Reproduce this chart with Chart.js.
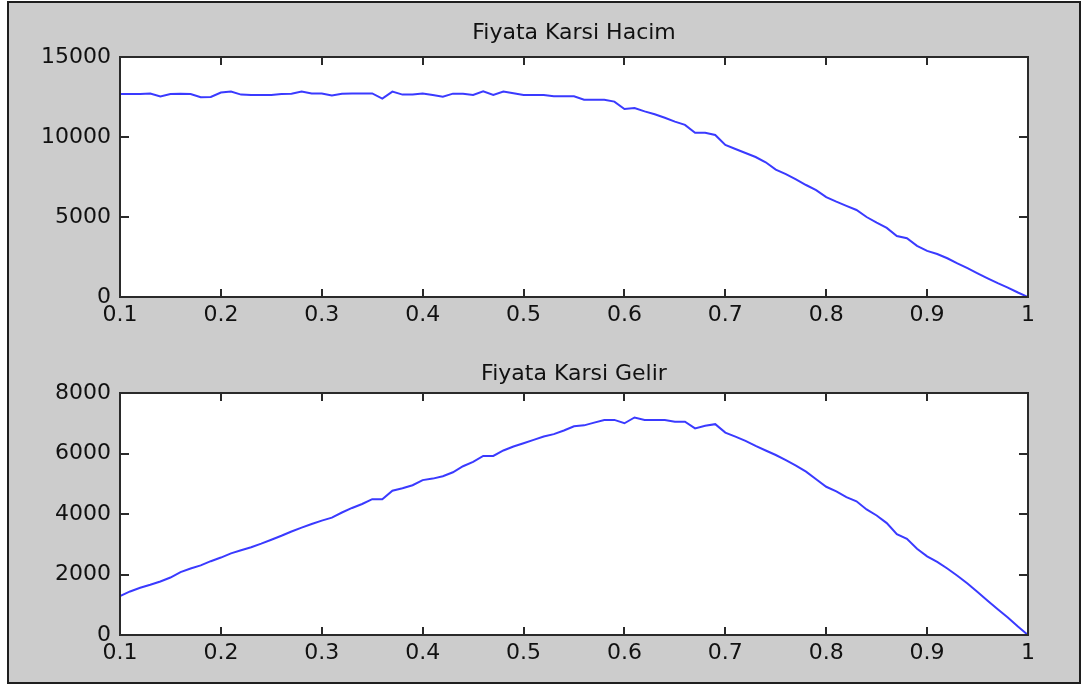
<!DOCTYPE html>
<html>
<head>
<meta charset="utf-8">
<script src="https://cdn.jsdelivr.net/npm/chart.js@4.4.1/dist/chart.umd.min.js"></script>
<style>
  html, body { margin: 0; padding: 0; background: #ffffff; }
  body { width: 1082px; height: 688px; position: relative; overflow: hidden; }
  #frame {
    position: absolute; left: 7px; top: 1px;
    width: 1070px; height: 679px;
    background: #cccccc; border: 2px solid #1e1e1e;
  }
  canvas { position: absolute; left: 0; }
  #volumeChart { top: 0; }
  #revenueChart { top: 340px; }
</style>
</head>
<body>
<div id="frame"></div>
<canvas id="volumeChart" width="1082" height="340"></canvas>
<canvas id="revenueChart" width="1082" height="348"></canvas>
<script>
// Price levels (x axis)
const prices = [
  0.10, 0.11, 0.12, 0.13, 0.14, 0.15, 0.16, 0.17, 0.18, 0.19,
  0.20, 0.21, 0.22, 0.23, 0.24, 0.25, 0.26, 0.27, 0.28, 0.29,
  0.30, 0.31, 0.32, 0.33, 0.34, 0.35, 0.36, 0.37, 0.38, 0.39,
  0.40, 0.41, 0.42, 0.43, 0.44, 0.45, 0.46, 0.47, 0.48, 0.49,
  0.50, 0.51, 0.52, 0.53, 0.54, 0.55, 0.56, 0.57, 0.58, 0.59,
  0.60, 0.61, 0.62, 0.63, 0.64, 0.65, 0.66, 0.67, 0.68, 0.69,
  0.70, 0.71, 0.72, 0.73, 0.74, 0.75, 0.76, 0.77, 0.78, 0.79,
  0.80, 0.81, 0.82, 0.83, 0.84, 0.85, 0.86, 0.87, 0.88, 0.89,
  0.90, 0.91, 0.92, 0.93, 0.94, 0.95, 0.96, 0.97, 0.98, 0.99,
  1.00
];

// Volume (Hacim) at each price
const volume = [
  12690, 12690, 12690, 12720, 12530, 12690, 12700, 12690, 12480, 12500,
  12780, 12840, 12650, 12630, 12630, 12630, 12690, 12710, 12840, 12720,
  12720, 12600, 12700, 12720, 12720, 12720, 12400, 12840, 12650, 12650,
  12720, 12625, 12520, 12710, 12710, 12625, 12860, 12625, 12840, 12730,
  12625, 12625, 12625, 12540, 12540, 12540, 12330, 12330, 12330, 12210,
  11750, 11810, 11600, 11420, 11200, 10960, 10760, 10270, 10270, 10125,
  9500, 9250, 9000, 8750, 8420, 7960, 7680, 7350, 7000, 6680,
  6240, 5960, 5700, 5440, 5000, 4650, 4320, 3810, 3670, 3200,
  2880, 2690, 2420, 2100, 1800, 1480, 1170, 870, 590, 280,
  0
];

// Revenue (Gelir) at each price
const revenue = [
  1290, 1440, 1560, 1660, 1770, 1900, 2080, 2200, 2300, 2440,
  2560, 2700, 2800, 2900, 3020, 3150, 3280, 3420, 3550, 3670,
  3780, 3880, 4050, 4200, 4330, 4490, 4490, 4770, 4850, 4950,
  5120, 5170, 5250, 5380, 5580, 5720, 5920, 5920, 6100, 6230,
  6340, 6450, 6560, 6640, 6760, 6900, 6930, 7020, 7110, 7110,
  7000, 7190, 7110, 7110, 7110, 7050, 7050, 6830, 6920, 6970,
  6690, 6560, 6420, 6250, 6100, 5950, 5780, 5600, 5400, 5150,
  4900, 4750, 4560, 4420, 4150, 3950, 3700, 3330, 3180, 2850,
  2600, 2420, 2200, 1960, 1700, 1420, 1130, 850, 580, 280,
  0
];

// Tick values and labels
const priceTicks = [0.1, 0.2, 0.3, 0.4, 0.5, 0.6, 0.7, 0.8, 0.9, 1];
const priceTickLabels = ['0.1', '0.2', '0.3', '0.4', '0.5', '0.6', '0.7', '0.8', '0.9', '1'];
const volumeTicks = [0, 5000, 10000, 15000];
const volumeTickLabels = ['0', '5000', '10000', '15000'];
const revenueTicks = [0, 2000, 4000, 6000, 8000];
const revenueTickLabels = ['0', '2000', '4000', '6000', '8000'];

const TEXT = '#111111';
const AXIS = '#2a2a2a';
const LINE = '#3a3aff';
const FONT_FAMILY = '"DejaVu Sans", "Liberation Sans", sans-serif';
const tickFont = { family: FONT_FAMILY, size: 22 };

// Axes box with inward tick marks on all four sides, plus the subplot title
const boxPlugin = {
  id: 'box',
  beforeDraw(chart) {
    const { ctx, chartArea: a } = chart;
    ctx.save();
    ctx.fillStyle = '#ffffff';
    ctx.fillRect(a.left, a.top, a.right - a.left, a.bottom - a.top);
    ctx.restore();
  },
  afterDraw(chart, args, opts) {
    const { ctx, chartArea: a, scales } = chart;
    ctx.save();
    ctx.strokeStyle = AXIS;
    ctx.lineWidth = 2;
    ctx.beginPath();
    scales.x.ticks.forEach(t => {
      const px = Math.round(scales.x.getPixelForValue(t.value));
      ctx.moveTo(px, a.bottom); ctx.lineTo(px, a.bottom - 8);
      ctx.moveTo(px, a.top); ctx.lineTo(px, a.top + 8);
    });
    scales.y.ticks.forEach(t => {
      const py = Math.round(scales.y.getPixelForValue(t.value));
      ctx.moveTo(a.left, py); ctx.lineTo(a.left + 9, py);
      ctx.moveTo(a.right, py); ctx.lineTo(a.right - 9, py);
    });
    ctx.stroke();
    ctx.strokeRect(a.left, a.top, a.right - a.left, a.bottom - a.top);

    ctx.fillStyle = TEXT;
    ctx.font = '22px ' + FONT_FAMILY;
    ctx.textAlign = 'center';
    ctx.textBaseline = 'middle';
    ctx.fillText(opts.text, (a.left + a.right) / 2, opts.y);
    ctx.restore();
  }
};

function makeChart(id, values, yTicks, yLabels, yMax, title, titleY, pad) {
  const points = prices.map((p, i) => ({ x: p, y: values[i] }));
  return new Chart(document.getElementById(id), {
    type: 'line',
    data: {
      datasets: [{
        data: points,
        borderColor: LINE,
        borderWidth: 2,
        pointRadius: 0,
        tension: 0,
        fill: false
      }]
    },
    options: {
      responsive: false,
      animation: false,
      events: [],
      layout: { padding: pad },
      plugins: {
        legend: { display: false },
        tooltip: { enabled: false },
        title: { display: false },
        box: { text: title, y: titleY }
      },
      scales: {
        x: {
          type: 'linear',
          min: 0.1,
          max: 1,
          afterBuildTicks: s => { s.ticks = priceTicks.map(v => ({ value: v })); },
          afterFit: s => { s.height = 40; },
          grid: { display: false, drawTicks: false },
          border: { display: false },
          ticks: {
            callback: (v, i) => priceTickLabels[i],
            font: tickFont, color: TEXT, padding: 5,
            maxRotation: 0, autoSkip: false
          }
        },
        y: {
          type: 'linear',
          min: 0,
          max: yMax,
          afterBuildTicks: s => { s.ticks = yTicks.map(v => ({ value: v })); },
          afterFit: s => { s.width = 110; },
          grid: { display: false, drawTicks: false },
          border: { display: false },
          ticks: {
            callback: (v, i) => yLabels[i],
            font: tickFont, color: TEXT, padding: 9,
            autoSkip: false
          }
        }
      }
    },
    plugins: [boxPlugin]
  });
}

makeChart('volumeChart', volume, volumeTicks, volumeTickLabels, 15000,
  'Fiyata Karsi Hacim', 33, { left: 10, right: 54, top: 57, bottom: 3 });
makeChart('revenueChart', revenue, revenueTicks, revenueTickLabels, 8000,
  'Fiyata Karsi Gelir', 34, { left: 10, right: 54, top: 53, bottom: 13 });
</script>
</body>
</html>
